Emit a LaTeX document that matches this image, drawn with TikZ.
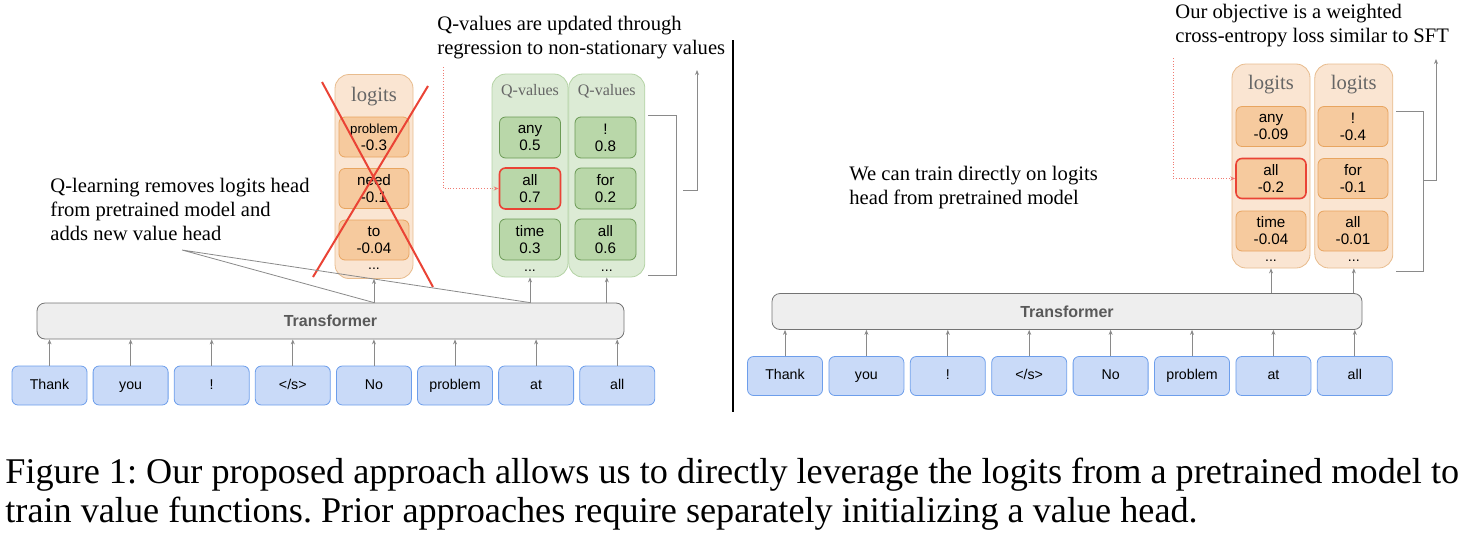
\documentclass[tikz,border=0pt]{standalone}
\usepackage{fontspec}
\setmainfont{Liberation Serif}
\setsansfont{Liberation Sans}
\usetikzlibrary{arrows.meta,positioning}

\definecolor{tokfill}{HTML}{C9DAF8}
\definecolor{tokdraw}{HTML}{6D9EEB}
\definecolor{trfill}{HTML}{EEEEEE}
\definecolor{trdraw}{HTML}{737373}
\definecolor{trtext}{HTML}{595959}
\definecolor{lgfill}{HTML}{FAE5D2}
\definecolor{lgdraw}{HTML}{E8BC8E}
\definecolor{lcfill}{HTML}{F6CA9E}
\definecolor{lcdraw}{HTML}{E8A560}
\definecolor{qfill}{HTML}{DCEBD5}
\definecolor{qdraw}{HTML}{B4D3A5}
\definecolor{qcfill}{HTML}{B9D7A9}
\definecolor{qcdraw}{HTML}{6B9A55}
\definecolor{hlred}{HTML}{EA4335}
\definecolor{headgray}{HTML}{666666}
\definecolor{linegray}{HTML}{8A8A8A}

\tikzset{
  tok/.style={draw=tokdraw, fill=tokfill, rounded corners=3pt, minimum width=37.5pt,
    minimum height=19.5pt, inner sep=0pt, text height=5.1pt, text depth=1.4pt,
    font=\sffamily\fontsize{7.1}{8}\selectfont},
  trans/.style={draw=trdraw, fill=trfill, rounded corners=4pt, inner sep=0pt,
    minimum height=18pt, text=trtext, font=\sffamily\bfseries\fontsize{8}{9}\selectfont},
  lgcol/.style={draw=lgdraw, fill=lgfill, rounded corners=7pt, minimum width=39pt,
    minimum height=102pt, inner sep=0pt},
  qcol/.style={draw=qdraw, fill=qfill, rounded corners=7pt, minimum width=38pt,
    minimum height=101.5pt, inner sep=0pt},
  lgcell/.style={draw=lcdraw, fill=lcfill, rounded corners=3pt, minimum width=35pt,
    minimum height=20pt, inner sep=0pt, align=center, font=\sffamily\fontsize{7.6}{8.5}\selectfont},
  qcell/.style={draw=qcdraw, fill=qcfill, rounded corners=3pt, minimum width=30.5pt,
    minimum height=20.5pt, inner sep=0pt, align=center, font=\sffamily\fontsize{7.6}{8.5}\selectfont},
  hl/.style={draw=hlred, line width=0.8pt},
  head/.style={text=headgray, inner sep=0pt},
  dots/.style={inner sep=0pt, font=\sffamily\fontsize{7}{8}\selectfont},
  note/.style={align=left, anchor=north west, inner sep=0pt, font=\fontsize{10.3}{12}\selectfont},
  up/.style={draw=linegray, line width=0.4pt, -{Stealth[length=2.5pt,width=2pt]}},
  thin line/.style={draw=linegray, line width=0.4pt},
  hint/.style={draw=hlred!70, line width=0.4pt, densely dotted, -{Stealth[length=2.5pt,width=2pt]}},
  capline/.style={anchor=base west, inner sep=0pt, font=\fontsize{18.1}{19.5}\selectfont},
}

\begin{document}
\frenchspacing
\begin{tikzpicture}[x=0.5pt,y=-0.5pt]
\useasboundingbox (0,0) rectangle (1475,536);

% left: Q-learning with a new value head
\node[trans, minimum width=293.5pt] (TL) at (330.5,321) {Transformer};
\foreach \w [count=\i] in {Thank,you,!,</s>,No,problem,at,all} {
  \node[tok] (a\i) at ({49.5+(\i-1)*81.1},385.5) {\w};
  \draw[up] (a\i.north) -- (a\i.north |- TL.south);
}

\node[lgcol] (L) at (374,176.5) {};
\node[head, font=\fontsize{10.3}{12}\selectfont] at (374,97) {logits};
\node[lgcell, font=\sffamily\fontsize{6.6}{8.5}\selectfont] (l1) at (374,137) {problem\\{\fontsize{7.6}{8.5}\selectfont -0.3}};
\node[lgcell] (l2) at (374,188.5) {need\\-0.1};
\node[lgcell] (l3) at (374,240) {to\\-0.04};
\node[dots] at (374,269) {...};
\draw[hlred, line width=1pt] (322,82) -- (433,287) (428,86) -- (313,277);

\node[qcol] (Q1) at (530,175.5) {};
\node[qcol, right=0pt of Q1] (Q2) {};
\foreach \c in {1,2} {
  \node[head, font=\fontsize{8}{9}\selectfont] at ([yshift=-9pt]Q\c.north) {Q-values};
  \node[dots] at ([yshift=3.5pt]Q\c.south) {...};
}
\node[qcell] (q11) at (530,137.5) {any\\0.5};
\node[qcell, hl] (q12) at (530,188.5) {all\\0.7};
\node[qcell] (q13) at (530,239.5) {time\\0.3};
\node[qcell] (q21) at (605.5,137.5) {!\\0.8};
\node[qcell] (q22) at (605.5,188.5) {for\\0.2};
\node[qcell] (q23) at (605.5,239.5) {all\\0.6};

\draw[up] (TL.north -| L.south) -- (L.south);
\draw[up] (TL.north -| Q1.south) -- (Q1.south);
\draw[up] (TL.north -| Q2.south) -- (Q2.south);

\node[note] (nq) at (50,178) {Q-learning removes logits head\\from pretrained model and\\adds new value head};
\coordinate (nqt) at (182,250);
\draw[thin line] (nqt) -- (TL.north -| L.south) (nqt) -- (TL.north -| Q1.south);

\node[note] (nr) at (437,16) {Q-values are updated through\\regression to non-stationary values};
\coordinate (dl) at (443,67);
\draw[hint] (dl) |- (q12.west);
\draw[thin line] (648,115) -- (676,115) -- (676,275) -- (648,275);
\draw[up] (683,190) -- (697,190) -- (697,70);

% divider
\draw[line width=1pt] (733,40) -- (733,412);

% right: train directly on the logits head
\node[trans, minimum width=295pt] (TR) at (1067,311.5) {Transformer};
\foreach \w [count=\i] in {Thank,you,!,</s>,No,problem,at,all} {
  \node[tok] (b\i) at ({785+(\i-1)*81.4},376) {\w};
  \draw[up] (b\i.north) -- (b\i.north |- TR.south);
}

\node[lgcol] (R1) at (1271,166) {};
\node[lgcol, right=2pt of R1] (R2) {};
\foreach \c in {1,2} {
  \node[head, font=\fontsize{10.3}{12}\selectfont] at ([yshift=-10.5pt]R\c.north) {logits};
  \node[dots] at ([yshift=4pt]R\c.south) {...};
  \draw[up] (TR.north -| R\c.south) -- (R\c.south);
}
\node[lgcell] (r11) at (1271,126.5) {any\\-0.09};
\node[lgcell, hl] (r12) at (1271,178.5) {all\\-0.2};
\node[lgcell] (r13) at (1271,231) {time\\-0.04};
\node[lgcell] (r21) at (1353,126.5) {!\\-0.4};
\node[lgcell] (r22) at (1353,178.5) {for\\-0.1};
\node[lgcell] (r23) at (1353,231) {all\\-0.01};

\node[note] (nd) at (849,166) {We can train directly on logits\\head from pretrained model};
\node[note] (no) at (1175,4) {Our objective is a weighted\\cross-entropy loss similar to SFT};
\coordinate (dr) at (1173,58);
\draw[hint] (dr) |- (r12.west);
\draw[thin line] (1396,111) -- (1423,111) -- (1423,271) -- (1396,271);
\draw[up] (1423,180) -- (1436,180) -- (1436,59);

% caption
\node[capline] (c1) at (5,483)
  {Figure 1: Our proposed approach allows us to directly leverage the logits from a pretrained model to};
\node[capline] (c2) at (5,522)
  {train value functions. Prior approaches require separately initializing a value head.};
\end{tikzpicture}
\end{document}
